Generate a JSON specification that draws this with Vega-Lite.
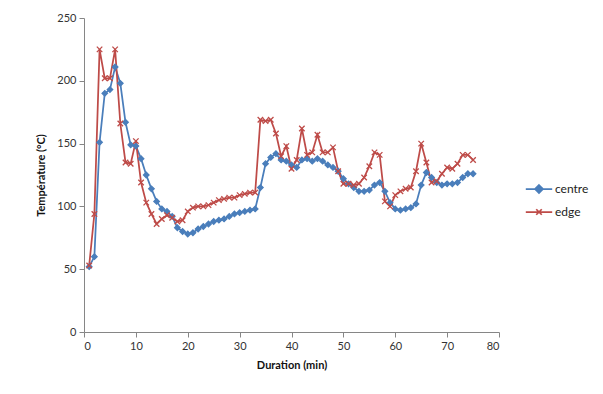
{
  "$schema": "https://vega.github.io/schema/vega-lite/v6.json",
  "width": 415,
  "height": 314,
  "autosize": {"type": "none"},
  "padding": {"left": 84, "top": 18, "right": 104, "bottom": 62},
  "background": "white",
  "config": {
    "view": {"stroke": null},
    "font": "Lato",
    "axis": {
      "grid": false,
      "domainColor": "#868686",
      "tickColor": "#868686",
      "tickSize": 5,
      "labelFont": "Lato",
      "labelFontSize": 11,
      "labelColor": "#333333",
      "titleFont": "Lato",
      "titleFontSize": 11,
      "titleFontWeight": "bold",
      "titleColor": "#111111"
    }
  },
  "data": {
    "values": [
      {"t":1,"s":"centre","v":52},{"t":2,"s":"centre","v":60},{"t":3,"s":"centre","v":151},{"t":4,"s":"centre","v":190},{"t":5,"s":"centre","v":193},
      {"t":6,"s":"centre","v":211},{"t":7,"s":"centre","v":198},{"t":8,"s":"centre","v":167},{"t":9,"s":"centre","v":149},{"t":10,"s":"centre","v":148},
      {"t":11,"s":"centre","v":138},{"t":12,"s":"centre","v":125},{"t":13,"s":"centre","v":114},{"t":14,"s":"centre","v":104},{"t":15,"s":"centre","v":98},
      {"t":16,"s":"centre","v":96},{"t":17,"s":"centre","v":92},{"t":18,"s":"centre","v":83},{"t":19,"s":"centre","v":80},{"t":20,"s":"centre","v":78},
      {"t":21,"s":"centre","v":79},{"t":22,"s":"centre","v":82},{"t":23,"s":"centre","v":84},{"t":24,"s":"centre","v":86},{"t":25,"s":"centre","v":88},
      {"t":26,"s":"centre","v":89},{"t":27,"s":"centre","v":90},{"t":28,"s":"centre","v":92},{"t":29,"s":"centre","v":94},{"t":30,"s":"centre","v":95},
      {"t":31,"s":"centre","v":96},{"t":32,"s":"centre","v":97},{"t":33,"s":"centre","v":98},{"t":34,"s":"centre","v":115},{"t":35,"s":"centre","v":134},
      {"t":36,"s":"centre","v":139},{"t":37,"s":"centre","v":142},{"t":38,"s":"centre","v":137},{"t":39,"s":"centre","v":136},{"t":40,"s":"centre","v":133},
      {"t":41,"s":"centre","v":131},{"t":42,"s":"centre","v":137},{"t":43,"s":"centre","v":138},{"t":44,"s":"centre","v":136},{"t":45,"s":"centre","v":138},
      {"t":46,"s":"centre","v":136},{"t":47,"s":"centre","v":133},{"t":48,"s":"centre","v":131},{"t":49,"s":"centre","v":128},{"t":50,"s":"centre","v":122},
      {"t":51,"s":"centre","v":118},{"t":52,"s":"centre","v":115},{"t":53,"s":"centre","v":112},{"t":54,"s":"centre","v":112},{"t":55,"s":"centre","v":113},
      {"t":56,"s":"centre","v":117},{"t":57,"s":"centre","v":119},{"t":58,"s":"centre","v":112},{"t":59,"s":"centre","v":103},{"t":60,"s":"centre","v":98},
      {"t":61,"s":"centre","v":97},{"t":62,"s":"centre","v":98},{"t":63,"s":"centre","v":99},{"t":64,"s":"centre","v":102},{"t":65,"s":"centre","v":117},
      {"t":66,"s":"centre","v":127},{"t":67,"s":"centre","v":123},{"t":68,"s":"centre","v":119},{"t":69,"s":"centre","v":117},{"t":70,"s":"centre","v":118},
      {"t":71,"s":"centre","v":118},{"t":72,"s":"centre","v":119},{"t":73,"s":"centre","v":123},{"t":74,"s":"centre","v":126},{"t":75,"s":"centre","v":126},
      {"t":1,"s":"edge","v":53},{"t":2,"s":"edge","v":94},{"t":3,"s":"edge","v":225},{"t":4,"s":"edge","v":202},{"t":5,"s":"edge","v":202},
      {"t":6,"s":"edge","v":225},{"t":7,"s":"edge","v":166},{"t":8,"s":"edge","v":135},{"t":9,"s":"edge","v":134},{"t":10,"s":"edge","v":152},
      {"t":11,"s":"edge","v":119},{"t":12,"s":"edge","v":103},{"t":13,"s":"edge","v":94},{"t":14,"s":"edge","v":86},{"t":15,"s":"edge","v":90},
      {"t":16,"s":"edge","v":93},{"t":17,"s":"edge","v":91},{"t":18,"s":"edge","v":88},{"t":19,"s":"edge","v":89},{"t":20,"s":"edge","v":96},
      {"t":21,"s":"edge","v":99},{"t":22,"s":"edge","v":100},{"t":23,"s":"edge","v":100},{"t":24,"s":"edge","v":101},{"t":25,"s":"edge","v":103},
      {"t":26,"s":"edge","v":105},{"t":27,"s":"edge","v":106},{"t":28,"s":"edge","v":107},{"t":29,"s":"edge","v":107},{"t":30,"s":"edge","v":109},
      {"t":31,"s":"edge","v":110},{"t":32,"s":"edge","v":111},{"t":33,"s":"edge","v":111},{"t":34,"s":"edge","v":169},{"t":35,"s":"edge","v":168},
      {"t":36,"s":"edge","v":169},{"t":37,"s":"edge","v":158},{"t":38,"s":"edge","v":140},{"t":39,"s":"edge","v":148},{"t":40,"s":"edge","v":130},
      {"t":41,"s":"edge","v":137},{"t":42,"s":"edge","v":162},{"t":43,"s":"edge","v":141},{"t":44,"s":"edge","v":143},{"t":45,"s":"edge","v":157},
      {"t":46,"s":"edge","v":143},{"t":47,"s":"edge","v":143},{"t":48,"s":"edge","v":147},{"t":49,"s":"edge","v":128},{"t":50,"s":"edge","v":118},
      {"t":51,"s":"edge","v":118},{"t":52,"s":"edge","v":117},{"t":53,"s":"edge","v":118},{"t":54,"s":"edge","v":123},{"t":55,"s":"edge","v":132},
      {"t":56,"s":"edge","v":143},{"t":57,"s":"edge","v":141},{"t":58,"s":"edge","v":104},{"t":59,"s":"edge","v":100},{"t":60,"s":"edge","v":109},
      {"t":61,"s":"edge","v":112},{"t":62,"s":"edge","v":114},{"t":63,"s":"edge","v":115},{"t":64,"s":"edge","v":128},{"t":65,"s":"edge","v":150},
      {"t":66,"s":"edge","v":135},{"t":67,"s":"edge","v":119},{"t":68,"s":"edge","v":120},{"t":69,"s":"edge","v":126},{"t":70,"s":"edge","v":131},
      {"t":71,"s":"edge","v":130},{"t":72,"s":"edge","v":134},{"t":73,"s":"edge","v":141},{"t":74,"s":"edge","v":141},{"t":75,"s":"edge","v":137}
    ]
  },
  "encoding": {
    "x": {
      "field": "t", "type": "quantitative",
      "scale": {"domain": [0, 80], "nice": false},
      "axis": {"values": [0,10,20,30,40,50,60,70,80], "title": "Duration (min)", "titlePadding": 8, "labelPadding": 3}
    },
    "y": {
      "field": "v", "type": "quantitative",
      "scale": {"domain": [0, 250], "nice": false},
      "axis": {"values": [0,50,100,150,200,250], "title": "Température (°C)", "titlePadding": 10, "labelPadding": 3}
    }
  },
  "layer": [
    {
      "mark": {"type": "line", "strokeWidth": 1.75},
      "encoding": {
        "color": {
          "field": "s", "type": "nominal",
          "scale": {"domain": ["centre", "edge"], "range": ["#4A7EBB", "#BE4B48"]},
          "legend": {
            "orient": "none", "legendX": 443, "legendY": 159, "title": null,
            "symbolType": "stroke",
            "symbolSize": 484, "symbolStrokeWidth": 1.75, "labelFontSize": 12, "labelFont": "Lato",
            "labelColor": "#222222", "rowPadding": 3, "labelOffset": 4,
            "encode": {
              "symbols": {
                "update": {
                  "shape": {"signal": "datum.value === 'centre' ? 'M-1.2,0L1.2,0M0,-0.36L0.36,0L0,0.36L-0.36,0Z' : 'M-1.2,0L1.2,0M-0.25,-0.25L0.25,0.25M-0.25,0.25L0.25,-0.25'"},
                  "fill": {"signal": "datum.value === 'centre' ? '#4A7EBB' : 'transparent'"}
                }
              }
            }
          }
        }
      }
    },
    {
      "mark": {"type": "point", "filled": true, "size": 30, "strokeWidth": 1.3, "opacity": 1},
      "encoding": {
        "shape": {"condition": {"test": "datum.s === 'edge'", "value": "M-1,-1L1,1M-1,1L1,-1"}, "value": "diamond"},
        "fill": {"condition": {"test": "datum.s === 'edge'", "value": "transparent"}, "value": "#4A7EBB"},
        "stroke": {"condition": {"test": "datum.s === 'edge'", "value": "#BE4B48"}, "value": "#4A7EBB"}
      }
    }
  ]
}
